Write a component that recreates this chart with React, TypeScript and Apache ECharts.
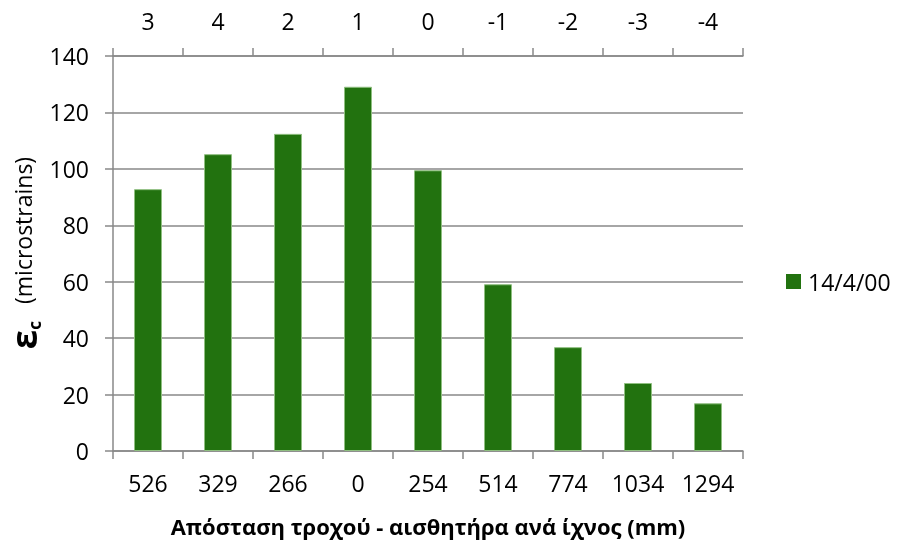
import React, { useEffect, useRef } from "react";
import * as echarts from "echarts";

const distances = ["526", "329", "266", "0", "254", "514", "774", "1034", "1294"];
const sensorIds = ["3", "4", "2", "1", "0", "-1", "-2", "-3", "-4"];
const strains = [92.8, 105.2, 112.4, 129.1, 99.5, 59.1, 36.8, 24.1, 16.9];
const seriesName = "14/4/00";

const FONT = "'Open Sans', 'DejaVu Sans', sans-serif";
const GRAY = "#898989";

export default function App() {
  const ref = useRef<HTMLDivElement>(null);
  useEffect(() => {
    if (!ref.current) return;
    const chart = echarts.init(ref.current, null, { renderer: "svg" });
    chart.setOption({
      animation: false,
      textStyle: { fontFamily: FONT, color: "#000" },
      grid: { left: 113, right: 155, top: 56, bottom: 93 },
      legend: {
        data: [seriesName],
        left: 781,
        top: 265,
        icon: "rect",
        itemWidth: 15,
        itemHeight: 15,
        itemStyle: { borderWidth: 0 },
        textStyle: { fontFamily: FONT, fontSize: 23, color: "#000", padding: [0, 0, 0, 2] },
      },
      xAxis: [
        {
          type: "category",
          position: "bottom",
          data: distances,
          axisLine: { lineStyle: { color: GRAY, width: 1.5 } },
          axisTick: { show: true, length: 8, lineStyle: { color: GRAY, width: 1.5 } },
          axisLabel: { fontFamily: FONT, fontSize: 23, color: "#000", margin: 20 },
          name: "Απόσταση τροχού - αισθητήρα ανά ίχνος (mm)",
          nameLocation: "middle",
          nameGap: 64,
          nameTextStyle: { fontFamily: FONT, fontSize: 22, fontWeight: "bold", color: "#000" },
        },
        {
          type: "category",
          position: "top",
          data: sensorIds,
          axisLine: { show: true, lineStyle: { color: GRAY, width: 1.5 } },
          axisTick: { show: true, length: 8, lineStyle: { color: GRAY, width: 1.5 } },
          axisLabel: { fontFamily: FONT, fontSize: 23, color: "#000", margin: 24 },
        },
      ],
      yAxis: {
        type: "value",
        min: 0,
        max: 140,
        interval: 20,
        axisLine: { show: true, lineStyle: { color: GRAY, width: 1.5 } },
        axisTick: { show: true, length: 8, lineStyle: { color: GRAY, width: 1.5 } },
        axisLabel: { fontFamily: FONT, fontSize: 23, color: "#000", margin: 24 },
        splitLine: { show: true, lineStyle: { color: GRAY, width: 1.5 } },
      },
      graphic: [
        {
          type: "text",
          x: 23,
          y: 253,
          rotation: Math.PI / 2,
          style: {
            text: "{e|ε}{c|c}{n|(microstrains)}",
            align: "center",
            verticalAlign: "middle",
            rich: {
              e: { fontFamily: FONT, fontSize: 35, fontWeight: "bold", fill: "#000", lineHeight: 40 },
              c: { fontFamily: FONT, fontSize: 17, fontWeight: "bold", fill: "#000", lineHeight: 20, verticalAlign: "bottom" },
              n: { fontFamily: FONT, fontSize: 23, fill: "#000", lineHeight: 40, padding: [0, 0, 0, 17] },
            },
          },
        },
      ],
      series: [
        {
          name: seriesName,
          type: "bar",
          xAxisIndex: 0,
          data: strains,
          barWidth: "40%",
          itemStyle: { color: "#22720F", borderColor: "#8fbf80", borderWidth: 1 },
        },
      ],
    });
    return () => chart.dispose();
  }, []);
  return (
    <div
      ref={ref}
      style={{ position: "fixed", left: 0, top: 0, width: 898, height: 544 }}
    />
  );
}
